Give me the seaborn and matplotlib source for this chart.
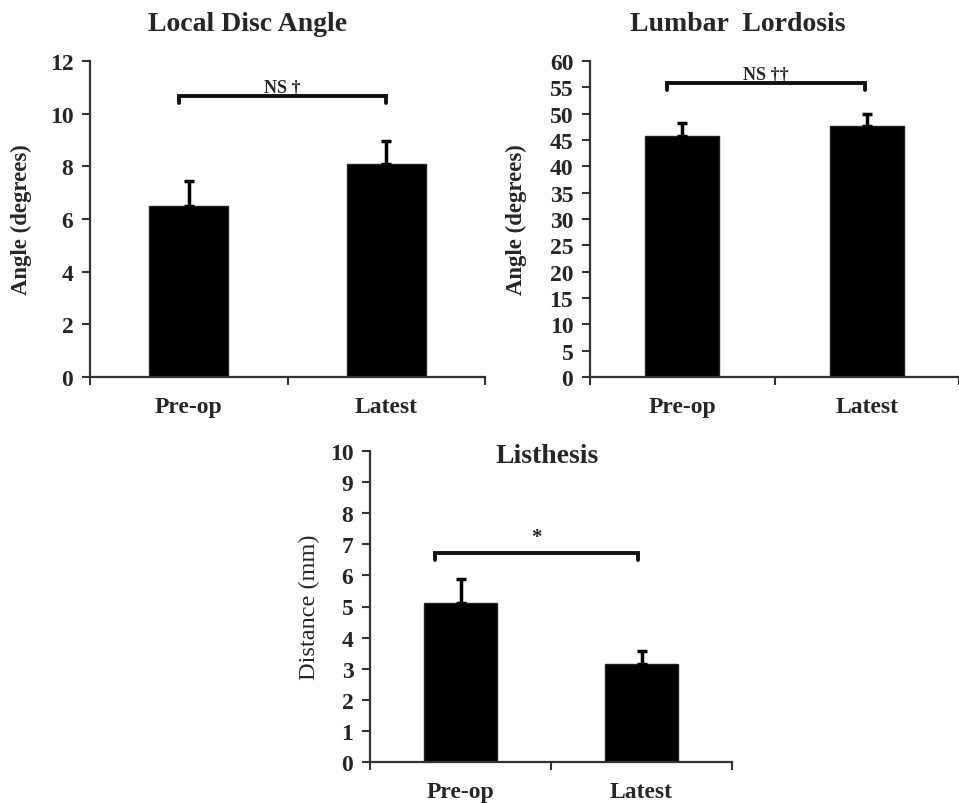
import matplotlib
matplotlib.use("Agg")
import matplotlib.pyplot as plt
import seaborn as sns
import pandas as pd

sns.set_theme(style="white")
plt.rcParams['font.family'] = ['Liberation Serif', 'DejaVu Serif']

categories = ["Pre-op", "Latest"]

disc_values = [6.5, 8.1]
disc_err = [0.93, 0.87]

lordosis_values = [45.8, 47.7]
lordosis_err = [2.4, 2.2]

listhesis_values = [5.11, 3.14]
listhesis_err = [0.79, 0.43]

panel_titles = ["Local Disc Angle", "Lumbar  Lordosis", "Listhesis"]
ylabels = ["Angle (degrees)", "Angle (degrees)", "Distance (mm)"]
annotations = ["NS \u2020", "NS \u2020\u2020", "*"]

W, H = 959, 804
fig = plt.figure(figsize=(W / 100, H / 100), dpi=100)


def px_axes(x0, y0, x1, y1):
    return fig.add_axes([x0 / W, 1 - y1 / H, (x1 - x0) / W, (y1 - y0) / H])


ax1 = px_axes(90, 62, 485, 378)
ax2 = px_axes(590, 62, 959, 378)
ax3 = px_axes(370, 452, 732, 763)

specs = [
    (ax1, disc_values, disc_err, 12, 2, (-0.5, 1.5), 0,
     dict(title_xy=(0.40, 1.12), ylab_x=-0.147, ylab_size=16.4,
          br=(-0.05, 1.0, 10.66, 10.4), ann_y=11.0, ann_size=13,
          label_weight="bold")),
    (ax2, lordosis_values, lordosis_err, 60, 5, (-0.5, 1.45), 1,
     dict(title_xy=(0.40, 1.12), ylab_x=-0.171, ylab_size=16.4,
          br=(-0.08, 0.99, 55.8, 54.4), ann_y=57.6, ann_size=13,
          label_weight="bold")),
    (ax3, listhesis_values, listhesis_err, 10, 1, (-0.5, 1.5), 2,
     dict(title_xy=(0.489, 0.985), ylab_x=-0.138, ylab_size=17.5,
          br=(-0.14, 0.98, 6.72, 6.48), ann_y=7.22, ann_size=15,
          label_weight="normal")),
]

for ax, vals, errs, ymax, ystep, xlim, i, opt in specs:
    df = pd.DataFrame({"group": categories, "value": vals})
    sns.barplot(data=df, x="group", y="value", color="black", width=0.4,
                errorbar=None, ax=ax, edgecolor="#222222", linewidth=1,
                saturation=1)
    ax.errorbar([0, 1], vals, yerr=[[0, 0], errs], fmt="none",
                ecolor="black", elinewidth=2.5, capsize=3.5, capthick=2.5)
    ax.set_xlim(*xlim)
    ax.set_ylim(0, ymax)
    ax.set_yticks(range(0, ymax + 1, ystep))
    ax.set_xticks([0, 1])
    ax.set_xticklabels(categories)
    ax.set_xticks([-0.5, 0.5, 1.5], minor=True)
    for sp in ["top", "right"]:
        ax.spines[sp].set_visible(False)
    for sp in ["left", "bottom"]:
        ax.spines[sp].set_color("#333333")
        ax.spines[sp].set_linewidth(1.6)
    ax.tick_params(axis="y", which="major", direction="out", length=6,
                   width=1.5, color="#333333", left=True, pad=6)
    ax.tick_params(axis="x", which="major", length=0, pad=14)
    ax.tick_params(axis="x", which="minor", direction="out", length=6,
                   width=1.5, color="#333333", bottom=True)
    for lab in ax.get_yticklabels() + ax.get_xticklabels():
        lab.set_fontweight("bold")
        lab.set_fontsize(17)
    ax.set_xlabel("")
    ax.set_ylabel(ylabels[i], fontsize=opt["ylab_size"],
                  fontweight=opt["label_weight"])
    ax.yaxis.set_label_coords(opt["ylab_x"], 0.5)
    ax.text(opt["title_xy"][0], opt["title_xy"][1], panel_titles[i],
            transform=ax.transAxes, ha="center", va="center",
            fontsize=20, fontweight="bold")
    bx0, bx1, by, bylow = opt["br"]
    ax.plot([bx0, bx0, bx1, bx1], [bylow, by, by, bylow], color="#111111",
            lw=2.8, solid_joinstyle="miter", clip_on=False)
    ax.text((bx0 + bx1) / 2, opt["ann_y"], annotations[i], ha="center",
            va="center", fontsize=opt["ann_size"], fontweight="bold")
    ax.set_facecolor("white")
    ax.patch.set_alpha(0)

fig.savefig("out.png", dpi=100, facecolor="white")
